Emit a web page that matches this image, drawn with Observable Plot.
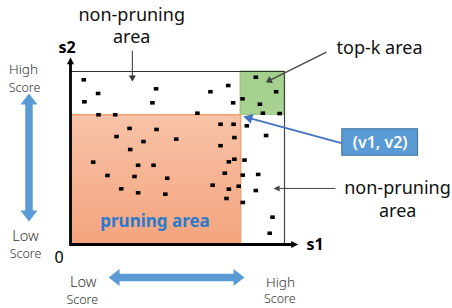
<!DOCTYPE html>
<html><head><meta charset="utf-8">
<script src="https://cdn.jsdelivr.net/npm/d3@7"></script>
<script src="https://cdn.jsdelivr.net/npm/@observablehq/plot@0.6"></script>
<style>body{margin:0;background:#fff}</style>
</head><body><div id="chart"></div>
<script>
// ---- data (scores on a 0–100 scale) ----
const s1 = [6.2,12.9,6.5,40.0,38.3,13.1,20.9,27.6,40.2,21.5,34.1,49.4,27.9,86.6,73.7,96.1,65.4,76.0,80.4,88.5,59.3,89.9,97.7,70.1,76.2,82.4,76.6,91.4,70.1,76.6,81.3,10.6,31.6,38.8,17.3,29.9,45.2,23.7,31.6,44.3,74.0,72.1,80.5,87.7,66.4,78.6,74.0,86.6,72.9,80.5,94.4,93.1];
const s2 = [95.2,87.3,82.5,90.0,81.9,75.0,75.0,67.1,66.5,62.4,59.5,60.9,54.9,96.7,91.9,88.3,88.3,81.9,84.2,81.1,75.9,75.9,75.7,69.5,69.5,68.6,61.8,63.0,57.1,49.3,48.8,47.6,45.8,45.8,39.9,39.3,38.3,32.2,29.9,29.1,47.8,41.2,40.1,40.5,34.3,33.7,32.0,31.2,26.6,24.3,15.8,6.5];
const v1 = 79.5, v2 = 75;           // threshold point (v1, v2)
const scoreMax = 100;
const areaLabels = ["non-pruning\narea", "top-k area", "non-pruning\narea", "pruning area"];
const axisLabels = ["s1", "s2", "0"];
const scaleWords = ["High", "Low", "Score"];
const pointLabel = "(v1, v2)";

const points = s1.map((d, i) => ({s1: d, s2: s2[i]}));
const pruning = [{x1: 0, x2: v1, y1: 0, y2: v2}];
const topk = [{x1: v1, x2: scoreMax, y1: v2, y2: scoreMax}];

// ---- layout ----
const W = 452, H = 308, ML = 70, MR = 168, MT = 71, MB = 64;
const kx = (W - ML - MR) / scoreMax, ky = (H - MT - MB) / scoreMax;
const FONT = "'Noto Sans', 'Open Sans', sans-serif";

function rectSym(w, h) {
  return {draw(ctx) { ctx.moveTo(-w/2, -h/2); ctx.lineTo(w/2, -h/2); ctx.lineTo(w/2, h/2); ctx.lineTo(-w/2, h/2); ctx.closePath(); }};
}
function headSym(ux, uy, w, h) {
  // apex at origin, pointing along (ux, uy) in pixel space
  const bx = -ux * h, by = -uy * h, px = -uy * w / 2, py = ux * w / 2;
  return {draw(ctx) { ctx.moveTo(0, 0); ctx.lineTo(bx + px, by + py); ctx.lineTo(bx - px, by - py); ctx.closePath(); }};
}
function arrow(x1, y1, x2, y2, {stroke = "#333", width = 1, hw = 7, hh = 6, both = false, cut = 0.7} = {}) {
  const px = (x2 - x1) * kx, py = -(y2 - y1) * ky;
  const len = Math.hypot(px, py), ux = px / len, uy = py / len;
  const s = hh * cut;
  const ex = x2 - ux * s / kx, ey = y2 + uy * s / ky;
  const sx = both ? x1 + ux * s / kx : x1, sy = both ? y1 - uy * s / ky : y1;
  const marks = [
    Plot.link([{a: sx, b: sy, c: ex, d: ey}], {x1: "a", y1: "b", x2: "c", y2: "d", stroke, strokeWidth: width}),
    Plot.dot([{x: x2, y: y2}], {x: "x", y: "y", r: 5, symbol: headSym(ux, uy, hw, hh), fill: stroke, stroke: "none"})
  ];
  if (both) marks.push(Plot.dot([{x: x1, y: y1}], {x: "x", y: "y", r: 5, symbol: headSym(-ux, -uy, hw, hh), fill: stroke, stroke: "none"}));
  return marks;
}
function label(x, y, text, opts = {}) {
  return Plot.text([{x, y, t: text}], {x: "x", y: "y", text: "t", fill: "#111", fontSize: 18, ...opts});
}

const BLUE = "#5b9bd5";

const svg = Plot.plot({
  width: W, height: H,
  marginLeft: ML, marginRight: MR, marginTop: MT, marginBottom: MB,
  x: {domain: [0, scoreMax], axis: null},
  y: {domain: [0, scoreMax], axis: null},
  style: {fontFamily: FONT, background: "#fff", overflow: "visible"},
  marks: [
    Plot.rect(pruning, {x1: "x1", x2: "x2", y1: "y1", y2: "y2", fill: "url(#gOrange)"}),
    Plot.rect(topk, {x1: "x1", x2: "x2", y1: "y1", y2: "y2", fill: "url(#gGreen)", stroke: "#8cc06e", strokeWidth: 1}),
    Plot.ruleY([v2], {x1: 0, x2: v1, stroke: "#f0a070", strokeWidth: 1.5}),
    Plot.ruleX([v1], {y1: 0, y2: v2, stroke: "#f0a070", strokeWidth: 1.5}),
    Plot.ruleY([scoreMax], {x1: 0, x2: scoreMax, stroke: "#333", strokeWidth: 1.2}),
    Plot.ruleX([scoreMax], {y1: 0, y2: scoreMax, stroke: "#444", strokeWidth: 1.2}),
    // axes with arrow heads
    ...arrow(0, 0, 0, 108.2, {stroke: "#000", width: 2.8, hw: 7, hh: 7}),
    ...arrow(-0.6, 0, 106.4, 0, {stroke: "#000", width: 2.8, hw: 7, hh: 7}),
    // points
    Plot.dot(points, {x: "s1", y: "s2", r: 2.5, symbol: rectSym(4.6, 3.6), fill: "#000", stroke: "none"}),
    // area labels
    label(28.6, 132.4, "non-pruning"),
    label(28.6, 119.8, "area"),
    ...arrow(28.9, 112.1, 28.9, 94.2, {stroke: "#333", width: 1, hw: 7, hh: 6}),
    label(144.4, 113.3, areaLabels[1]),
    ...arrow(119.6, 111.2, 91.3, 93.8, {stroke: "#444", width: 1.2, hw: 8, hh: 6}),
    label(152.8, 32.4, "non-pruning"),
    label(152.9, 19.1, "area"),
    ...arrow(123.8, 32.4, 94.9, 32.4, {stroke: "#444", width: 1, hw: 6, hh: 6}),
    label(39.5, 13.5, areaLabels[3], {fill: "#2a7acb", fontWeight: "bold", fontSize: 17}),
    // (v1, v2) callout
    ...arrow(126.6, 58.6, 80.8, 74.0, {stroke: "#4472c4", width: 2, hw: 10, hh: 9}),
    Plot.rect([{a: 127, b: 162.4, c: 51.3, d: 66.6}], {x1: "a", x2: "b", y1: "c", y2: "d", fill: BLUE, stroke: "#41719c", strokeWidth: 1}),
    label(144.7, 59, pointLabel, {fill: "#fff", fontSize: 16, fontWeight: 600}),
    // axis titles
    label(-1.6, 113.9, axisLabels[1], {fontWeight: "bold", fontSize: 16, fill: "#000"}),
    label(114.3, -0.3, axisLabels[0], {fontWeight: "bold", fontSize: 16, fill: "#000"}),
    label(-5.3, -7.5, axisLabels[2], {fontSize: 16, fill: "#000"}),
    // score direction arrows
    ...arrow(-19.4, 13.3, -19.4, 87.3, {stroke: BLUE, width: 7.5, hw: 17, hh: 11, both: true, cut: 0.9}),
    ...arrow(17.8, -19.1, 81.3, -19.1, {stroke: BLUE, width: 7.5, hw: 17, hh: 11, both: true, cut: 0.9}),
    label(-22, 100.8, scaleWords[0], {fontSize: 13.5, fill: "#333", fontWeight: 300}),
    label(-21.5, 90.2, scaleWords[2], {fontSize: 12.5, fill: "#333", fontWeight: 300}),
    label(-21, 4.9, scaleWords[1], {fontSize: 14.5, fill: "#333", fontWeight: 300}),
    label(-21, -5.4, scaleWords[2], {fontSize: 12.5, fill: "#333", fontWeight: 300}),
    label(5.9, -21.8, scaleWords[1], {fontSize: 14.5, fill: "#333", fontWeight: 300}),
    label(5.5, -32.2, scaleWords[2], {fontSize: 12.5, fill: "#333", fontWeight: 300}),
    label(98.1, -21.8, scaleWords[0], {fontSize: 13.5, fill: "#333", fontWeight: 300}),
    label(97.8, -31.6, scaleWords[2], {fontSize: 12.5, fill: "#333", fontWeight: 300})
  ]
});

const defs = d3.select(svg).insert("defs", ":first-child");
const go = defs.append("linearGradient").attr("id", "gOrange").attr("x1", 0).attr("y1", 0).attr("x2", 0).attr("y2", 1);
go.append("stop").attr("offset", "0%").attr("stop-color", "#f8c3a9");
go.append("stop").attr("offset", "100%").attr("stop-color", "#f4a47d");
const gg = defs.append("linearGradient").attr("id", "gGreen").attr("x1", 0).attr("y1", 0).attr("x2", 0).attr("y2", 1);
gg.append("stop").attr("offset", "0%").attr("stop-color", "#a3cf8b");
gg.append("stop").attr("offset", "100%").attr("stop-color", "#aad394");

document.getElementById("chart").appendChild(svg);
</script>
</body></html>
